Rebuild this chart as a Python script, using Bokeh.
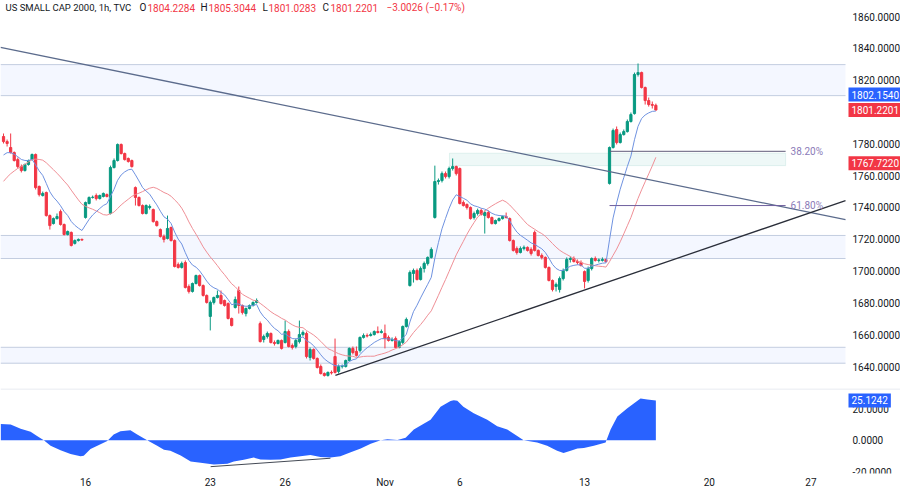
import numpy as np
from bokeh.plotting import figure
from bokeh.layouts import column
from bokeh.models import (Range1d, FixedTicker, BoxAnnotation, Label, Span, ColumnDataSource)
from bokeh.core.properties import value
from bokeh.embed import file_html
from bokeh.resources import INLINE

# ---------------- data (hourly bars, index 0 = first bar of Oct 16) ----------------
bar_start = -23

opens = [
    1784.6, 1781.4,
    1777.7, 1774.5, 1770.1, 1765.7, 1763.2, 1767.0, 1770.1,
    1773.3, 1753.2, 1747.5, 1749.4, 1734.9, 1729.9, 1733.0,
    1737.4, 1729.3, 1723.0, 1724.3, 1717.4, 1719.2, 1719.9,
    1733.7, 1742.5, 1746.3, 1747.5, 1745.6, 1746.9, 1748.1,
    1736.2, 1765.1, 1769.5, 1779.6, 1773.9, 1770.8, 1769.5,
    1752.5, 1746.3, 1741.2, 1736.2, 1740.0, 1738.7, 1731.1,
    1726.1, 1721.8, 1720.5, 1727.4, 1719.2, 1704.1, 1702.3,
    1705.4, 1690.3, 1687.2, 1692.2, 1697.2, 1690.9, 1684.7,
    1671.5, 1680.3, 1683.4, 1684.7, 1681.5, 1679.6, 1670.2,
    1677.1, 1687.8, 1678.4, 1673.3, 1676.5, 1678.4, 1680.3,
    1667.0, 1657.0, 1658.9, 1660.8, 1655.1, 1654.5, 1656.4,
    1655.1, 1662.0, 1653.2, 1652.6, 1655.7, 1660.1, 1660.8,
    1645.7, 1650.7, 1645.1, 1640.0, 1635.6, 1634.4, 1636.3,
    1646.3, 1636.9, 1640.0, 1640.0, 1643.8, 1651.4, 1649.5,
    1650.1, 1658.3, 1659.5, 1659.5, 1660.1, 1662.0, 1661.4,
    1660.8, 1658.3, 1656.4, 1657.6, 1652.0, 1655.1, 1665.2,
    1690.9, 1698.5, 1700.4, 1694.7, 1701.6, 1704.8, 1708.6,
    1733.7, 1756.3, 1756.9, 1761.3, 1759.4, 1764.5, 1765.7,
    1764.5, 1743.1, 1741.9, 1740.0, 1733.7, 1736.2, 1738.1,
    1734.9, 1736.8, 1733.7, 1729.9, 1731.8, 1733.0, 1734.3,
    1733.0, 1719.2, 1714.2, 1711.7, 1714.2, 1714.9, 1713.6,
    1724.3, 1713.0, 1709.8, 1708.6, 1702.3, 1694.1, 1690.3,
    1688.4, 1695.3, 1700.4, 1707.3, 1707.9, 1706.0, 1705.4,
    1699.7, 1694.1, 1701.6, 1707.9, 1706.7, 1706.7, 1707.3,
    1755.1, 1777.7, 1789.0, 1780.8, 1785.8, 1787.7, 1794.0,
    1799.0, 1823.6, 1824.8, 1815.4, 1807.2, 1804.7, 1804.2284,
]
highs = [
    1786.5, 1782.7,
    1786.5, 1775.2, 1771.4, 1767.0, 1767.6, 1770.1, 1773.9,
    1773.9, 1753.8, 1750.0, 1750.0, 1735.6, 1733.7, 1736.2,
    1738.7, 1729.9, 1725.5, 1724.9, 1719.9, 1720.5, 1720.5,
    1743.7, 1746.9, 1747.5, 1748.8, 1748.1, 1749.4, 1748.8,
    1766.3, 1770.8, 1780.2, 1780.2, 1774.5, 1771.4, 1770.1,
    1753.2, 1746.9, 1741.9, 1741.9, 1741.9, 1739.3, 1731.8,
    1726.8, 1723.0, 1734.9, 1728.0, 1719.9, 1705.4, 1706.0,
    1706.7, 1691.6, 1692.8, 1697.8, 1697.8, 1691.6, 1685.3,
    1681.5, 1684.0, 1687.8, 1687.8, 1682.1, 1680.3, 1670.8,
    1684.0, 1690.3, 1679.0, 1677.1, 1679.0, 1680.9, 1682.8,
    1668.3, 1660.1, 1662.0, 1661.4, 1656.4, 1657.0, 1657.0,
    1668.9, 1663.3, 1654.5, 1657.6, 1668.9, 1662.7, 1662.0,
    1652.0, 1651.4, 1645.7, 1641.3, 1636.3, 1636.9, 1637.5,
    1657.6, 1641.3, 1641.3, 1644.4, 1652.0, 1652.6, 1652.6,
    1658.9, 1660.8, 1660.8, 1661.4, 1662.7, 1665.2, 1663.3,
    1666.4, 1659.5, 1658.3, 1658.9, 1656.4, 1665.8, 1670.8,
    1700.4, 1701.6, 1701.6, 1702.9, 1706.0, 1709.2, 1714.9,
    1766.3, 1758.2, 1762.6, 1762.6, 1765.7, 1770.8, 1766.3,
    1765.1, 1744.4, 1742.5, 1740.6, 1737.4, 1739.3, 1739.3,
    1738.1, 1738.1, 1734.3, 1732.4, 1733.7, 1734.9, 1736.8,
    1733.7, 1719.9, 1715.5, 1715.5, 1716.1, 1715.5, 1714.9,
    1725.5, 1713.6, 1711.1, 1709.2, 1702.9, 1694.7, 1692.8,
    1696.6, 1701.6, 1708.6, 1709.2, 1709.2, 1707.3, 1706.7,
    1700.4, 1702.9, 1708.6, 1709.2, 1707.9, 1708.6, 1707.9,
    1778.3, 1789.6, 1790.9, 1787.1, 1789.0, 1795.3, 1799.7,
    1824.8, 1830.5, 1825.4, 1816.0, 1809.1, 1806.6, 1805.3044,
]
lows = [
    1780.2, 1778.3,
    1773.9, 1768.9, 1764.5, 1762.0, 1762.6, 1766.3, 1769.5,
    1751.3, 1746.9, 1746.9, 1734.3, 1726.1, 1729.3, 1732.4,
    1728.6, 1722.4, 1722.4, 1715.5, 1716.7, 1718.6, 1719.2,
    1733.0, 1741.9, 1745.6, 1744.4, 1745.0, 1746.3, 1746.3,
    1735.6, 1764.5, 1768.9, 1773.3, 1769.5, 1768.2, 1765.1,
    1741.2, 1740.6, 1735.6, 1735.6, 1738.7, 1730.5, 1728.0,
    1721.1, 1718.0, 1719.9, 1718.6, 1702.3, 1701.6, 1701.6,
    1689.1, 1685.9, 1686.5, 1691.6, 1690.3, 1684.0, 1679.6,
    1662.7, 1679.0, 1682.8, 1679.0, 1677.7, 1669.6, 1665.2,
    1676.5, 1673.3, 1672.7, 1671.5, 1675.9, 1677.7, 1679.6,
    1655.1, 1655.1, 1657.6, 1654.5, 1653.2, 1653.9, 1650.7,
    1654.5, 1652.0, 1650.7, 1651.4, 1654.5, 1658.9, 1645.1,
    1643.8, 1644.4, 1638.8, 1635.0, 1633.7, 1633.7, 1635.0,
    1635.6, 1635.6, 1638.8, 1639.4, 1643.2, 1647.6, 1646.3,
    1648.8, 1657.6, 1658.3, 1658.9, 1659.5, 1660.8, 1660.8,
    1651.4, 1655.7, 1655.7, 1651.4, 1651.4, 1653.9, 1664.5,
    1690.3, 1692.8, 1694.1, 1694.1, 1699.1, 1703.5, 1707.9,
    1733.0, 1754.4, 1755.7, 1758.2, 1758.2, 1763.2, 1760.1,
    1741.9, 1740.6, 1738.7, 1732.4, 1732.4, 1734.9, 1734.9,
    1723.6, 1733.0, 1729.3, 1729.3, 1731.1, 1732.4, 1733.0,
    1718.6, 1712.3, 1710.4, 1711.1, 1713.0, 1712.3, 1709.8,
    1712.3, 1709.2, 1707.3, 1701.6, 1693.5, 1687.2, 1687.2,
    1686.5, 1694.1, 1699.7, 1705.4, 1705.4, 1704.1, 1702.9,
    1689.1, 1692.8, 1700.4, 1706.0, 1705.4, 1706.0, 1705.4,
    1754.4, 1777.0, 1779.6, 1780.2, 1785.2, 1787.1, 1793.4,
    1798.4, 1822.3, 1814.8, 1804.7, 1803.4, 1802.2, 1801.0283,
]
closes = [
    1781.4, 1780.2,
    1774.5, 1769.5, 1765.7, 1763.2, 1767.0, 1769.5, 1773.3,
    1752.5, 1748.1, 1748.8, 1734.9, 1728.6, 1733.0, 1734.3,
    1729.3, 1723.0, 1724.9, 1716.1, 1719.2, 1719.9, 1719.5,
    1743.1, 1746.3, 1746.4, 1745.6, 1747.5, 1748.8, 1746.9,
    1765.1, 1769.5, 1779.6, 1773.9, 1770.1, 1768.9, 1765.7,
    1746.3, 1741.2, 1736.2, 1741.2, 1740.6, 1731.1, 1728.6,
    1721.8, 1719.9, 1726.8, 1719.2, 1702.9, 1702.3, 1704.8,
    1689.7, 1687.2, 1692.2, 1697.2, 1690.9, 1684.7, 1680.3,
    1680.3, 1683.4, 1684.7, 1679.6, 1678.4, 1670.2, 1665.8,
    1682.1, 1678.4, 1674.0, 1676.5, 1678.4, 1680.3, 1681.5,
    1655.7, 1658.9, 1660.8, 1655.1, 1654.5, 1656.4, 1651.4,
    1662.0, 1652.6, 1652.0, 1656.4, 1660.1, 1661.4, 1646.3,
    1650.7, 1645.1, 1639.4, 1635.6, 1634.4, 1636.3, 1636.0,
    1636.3, 1640.0, 1640.2, 1643.8, 1651.4, 1648.8, 1647.0,
    1658.3, 1659.5, 1659.2, 1660.1, 1662.0, 1661.4, 1662.0,
    1657.6, 1656.4, 1657.0, 1652.0, 1655.7, 1665.2, 1669.6,
    1699.1, 1700.4, 1694.7, 1701.6, 1704.8, 1708.6, 1713.6,
    1756.3, 1756.9, 1761.3, 1759.4, 1764.5, 1765.7, 1761.3,
    1742.5, 1741.2, 1740.0, 1733.0, 1736.2, 1738.1, 1735.6,
    1736.8, 1733.7, 1729.9, 1731.8, 1733.0, 1734.3, 1733.7,
    1719.2, 1713.0, 1711.7, 1714.2, 1714.9, 1713.0, 1711.1,
    1713.0, 1709.8, 1708.6, 1702.3, 1694.1, 1688.4, 1691.6,
    1695.3, 1700.4, 1707.3, 1707.9, 1706.0, 1705.4, 1703.5,
    1693.5, 1701.6, 1707.9, 1706.7, 1707.0, 1707.3, 1706.0,
    1777.7, 1788.4, 1780.8, 1785.8, 1787.7, 1794.0, 1798.4,
    1823.6, 1824.8, 1815.4, 1807.2, 1804.7, 1804.2, 1801.2201,
]
# closes before the visible window (for the moving averages' warm-up)
prior_closes = [1728, 1731, 1735, 1733, 1738, 1741, 1740, 1744, 1746, 1752,
                1758, 1768, 1772, 1776, 1779, 1777, 1775, 1774, 1780]

# x-axis (bar index) tick labels
x_tick_pos = [0, 35, 56, 84, 105, 140, 175, 203.5]
x_tick_labels = ["16", "23", "26", "Nov", "6", "13", "20", "27"]
price_ticks = [1640, 1660, 1680, 1700, 1720, 1740, 1760, 1780, 1800, 1820, 1840, 1860]
osc_ticks = [-20, 0, 20]

# horizontal zones
zone_tops = [1829.8, 1722.4, 1652.1]
zone_bottoms = [1810.3, 1707.9, 1642.1]

# trend lines (bar index, price)
desc_x = [-23.85, 213.2]
desc_y = [1840.6, 1732.3]
asc_x = [70.1, 213.2]
asc_y = [1634.4, 1744.3]

# fib retracement
fib_high = 1830.5
fib_low = 1686.0
fib_levels = [0.382, 0.618]
fib_x = [147, 196.4]
fib_box_left, fib_box_right = 102.1, 196.4
fib_box_top, fib_box_bottom = 1774.1, 1766.3

# oscillator
osc_x = [-23.8, -21, -18.2, -15.4, -13.6, -11.7, -9.8, -7, -4.2, -1.4, -0.5, 1.4, 4.2, 6.1,
         7.9, 9.8, 12.6, 14.5, 17.3, 20.1, 22, 23.8, 26.7, 29.5, 32.3, 36, 39.8, 41.6, 44.4,
         47.2, 49.1, 51.9, 54.7, 57.5, 60.3, 63.1, 65.9, 68.7, 71.5, 74.4, 77.2, 80, 82.8,
         84.7, 87.5, 89.8, 92.1, 96.8, 99.6, 102.4, 103.3, 104.3, 106, 108.9, 112.7, 115.5,
         118.3, 121.1, 122.9, 126.7, 129.5, 132.3, 134.1, 136.1, 138, 139.8, 142.6, 145.9,
         147.3, 149.2, 152, 153.8, 155.7, 157.6, 160]
osc_v = [10.3, 10.0, 7.2, 5.3, 2.7, 0, -3.5, -6.2, -8.6, -10.1, -9.8, -5.5, -2.5, -0.4,
         3.7, 5.7, 6.4, 3.7, 0, -3.5, -5.9, -6.6, -9.6, -13.3, -14.2, -15.2, -14.8, -13.3, -12.3,
         -10.9, -12.1, -12.3, -12.1, -10.9, -10.1, -9.2, -10.5, -10.9, -10.1, -7.6, -5.1, -2.1, 0,
         0.6, 0.2, 1.6, 6.8, 12.9, 21.1, 24.8, 25.2, 24.9, 21.1, 17.0, 12.9, 8.8,
         6.8, 2.7, 0, -1.4, -3.5, -6.6, -8.0, -6.6, -5.1, -4.9, -3.5, -1.4,
         6.8, 15.0, 20.1, 23.2, 26.3, 25.6, 25.1242]
osc_div_x = [35.1, 68.7]
osc_div_y = [-16.6, -11.3]

# values shown in the price-scale tags
ma_fast_last = 1802.1540
ma_slow_last = 1767.7220
change_abs = -3.0026
change_pct = -0.17
title_text = "US SMALL CAP 2000, 1h, TVC"

# ---------------- layout constants ----------------
W = 900
H_MAIN = 388
H_OSC = 102
OSC_AXIS_H = 15
AXW = 55                      # width of the price scale strip
PW = W - AXW                  # width of the chart area
X0, X_EDGE = -23.85, 213.2    # bar range covered by the chart area
X1 = X0 + W * (X_EDGE - X0) / PW
BAR_PX = PW / (X_EDGE - X0)
Y_MAIN = (1626.2, 1870.1)
Y_OSC = (-20.9, 32.6)
FONT = "Roboto"
UP = "#089981"
DOWN = "#f23645"
TXT = "#131722"

xr = Range1d(X0, X1)


def new_fig(height, yr, below):
    f = figure(width=W, height=height, x_range=xr, y_range=Range1d(*yr),
               output_backend="svg", toolbar_location=None,
               x_axis_location="below" if below else None, y_axis_location=None,
               min_border_left=0, min_border_right=0, min_border_top=0,
               min_border_bottom=OSC_AXIS_H if below else 0, outline_line_color=None,
               background_fill_color="white", border_fill_color="white")
    f.grid.visible = False
    return f


def price_scale(f, ticks):
    f.text(x=[X_EDGE + 7 / BAR_PX] * len(ticks), y=ticks,
           text=[f"{t:.4f}" for t in ticks], text_font=value(FONT),
           text_font_size=value("10px"), text_color=TXT,
           text_baseline="middle", text_align="left")


def tag(f, yval, text, bg):
    f.add_layout(Label(x=X_EDGE + 3 / BAR_PX, y=yval, text=text,
                       text_color="white", text_font=FONT, text_font_size="10px",
                       text_baseline="middle", text_align="left",
                       background_fill_color=bg, background_fill_alpha=1.0, padding=3))


p1 = new_fig(H_MAIN, Y_MAIN, False)
px_per_unit = H_MAIN / (Y_MAIN[1] - Y_MAIN[0])

# zones
for t, b in zip(zone_tops, zone_bottoms):
    p1.add_layout(BoxAnnotation(top=t, bottom=b, right=X_EDGE, fill_color="#2962ff",
                                fill_alpha=0.05, line_color=None, level="underlay"))
p1.segment(x0=[X0] * 6, x1=[X_EDGE] * 6, y0=zone_tops + zone_bottoms,
           y1=zone_tops + zone_bottoms, line_color="#c3cde0", line_width=1)

# fib box
p1.add_layout(BoxAnnotation(left=fib_box_left, right=fib_box_right, top=fib_box_top,
                            bottom=fib_box_bottom, fill_color="#26a69a", fill_alpha=0.08,
                            line_color="#a9d9d2", line_width=1, level="underlay"))

# candles
o = np.array(opens)
h = np.array(highs)
l = np.array(lows)
c = np.array(closes)
xs = np.arange(bar_start, bar_start + len(c))
src = ColumnDataSource(dict(x=xs, h=h, l=l, top=np.maximum(o, c), bottom=np.minimum(o, c),
                            color=np.where(c >= o, UP, DOWN)))
p1.segment(x0="x", y0="l", x1="x", y1="h", line_color="color", line_width=1, source=src)
p1.vbar(x="x", width=0.62, top="top", bottom="bottom", fill_color="color",
        line_color="color", line_width=1, source=src)

# moving averages
all_c = np.array(prior_closes + closes, dtype=float)
slow = np.convolve(all_c, np.ones(20) / 20.0, mode="valid")
ema = np.empty_like(all_c)
ema[0] = all_c[0]
alpha = 2.0 / 10.0
for k in range(1, len(all_c)):
    ema[k] = alpha * all_c[k] + (1 - alpha) * ema[k - 1]
fast = ema[len(prior_closes):]
p1.line(xs, slow, line_color="#ef8f96", line_width=1)
p1.line(xs, fast, line_color="#6f92e0", line_width=1)

# trend lines
p1.line(desc_x, desc_y, line_color="#5b6b8c", line_width=1.3)
p1.line(asc_x, asc_y, line_color="#2a2e39", line_width=1.3)

# fib levels
fib_colors = ["#5f5a78", "#6f5f9e"]
for lvl, col in zip(fib_levels, fib_colors):
    price = fib_high - lvl * (fib_high - fib_low)
    p1.line(fib_x, [price, price], line_color=col, line_width=1)
    p1.add_layout(Label(x=fib_x[1] + 5 / BAR_PX, y=price, text=f"{lvl * 100:.2f}%",
                        text_font=FONT, text_font_size="10px", text_color="#8b7bb8",
                        text_baseline="middle", text_align="left"))


def fmt_signed(v, nd):
    s = f"{abs(v):.{nd}f}"
    return ("\u2212" + s) if v < 0 else ("+" + s)


# header pieces: (text, colour, left position in px, font size)
header = [(title_text, TXT, 5, "9.5px"),
          ("O", TXT, 139, "10px"), (f"{opens[-1]:.4f}", DOWN, 147, "10px"),
          ("H", TXT, 200, "10px"), (f"{highs[-1]:.4f}", DOWN, 208, "10px"),
          ("L", TXT, 262, "10px"), (f"{lows[-1]:.4f}", DOWN, 268, "10px"),
          ("C", TXT, 322, "10px"), (f"{closes[-1]:.4f}", DOWN, 330, "10px"),
          (f"{fmt_signed(change_abs, 4)} ({fmt_signed(change_pct, 2)}%)", DOWN, 386, "10px")]
hy = Y_MAIN[1] - 7 / px_per_unit
for txt, col, hx, fs in header:
    p1.add_layout(Label(x=hx, y=hy, x_units="screen", y_units="data", text=txt,
                        text_font=FONT, text_font_size=fs, text_color=col,
                        text_baseline="middle", text_align="left"))

price_scale(p1, price_ticks)
tag_shift = 14 / px_per_unit
tag(p1, ma_slow_last, f"{ma_slow_last:.4f}", "#f23645")
tag(p1, closes[-1], f"{closes[-1]:.4f}", "#f23645")
tag(p1, ma_fast_last + tag_shift, f"{ma_fast_last:.4f}", "#2962ff")

# ---------------- oscillator pane ----------------
p2 = new_fig(H_OSC, Y_OSC, True)
ax = p2.xaxis[0]
ax.axis_line_color = None
ax.major_tick_line_color = None
ax.minor_tick_line_color = None
ax.major_tick_out = 0
ax.major_tick_in = 0
ax.minor_tick_out = 0
ax.minor_tick_in = 0
ax.major_label_text_font = FONT
ax.major_label_text_font_size = "10px"
ax.major_label_text_color = TXT
ax.major_label_standoff = 3
ax.ticker = FixedTicker(ticks=x_tick_pos)
ax.major_label_overrides = {float(pos): lab for pos, lab in zip(x_tick_pos, x_tick_labels)}

p2.varea(x=osc_x, y1=[0] * len(osc_x), y2=osc_v, fill_color="#2962ff", fill_alpha=1.0)
p2.line(osc_div_x, osc_div_y, line_color="#444a55", line_width=1)
p2.add_layout(Span(location=Y_OSC[1] - 0.3, dimension="width", line_color="#e0e3eb",
                   line_width=1))
price_scale(p2, osc_ticks)
tag(p2, osc_v[-1], f"{osc_v[-1]:.4f}", "#2962ff")

layout = column(p1, p2, spacing=0)
open("out.html", "w").write(file_html(layout, INLINE))
